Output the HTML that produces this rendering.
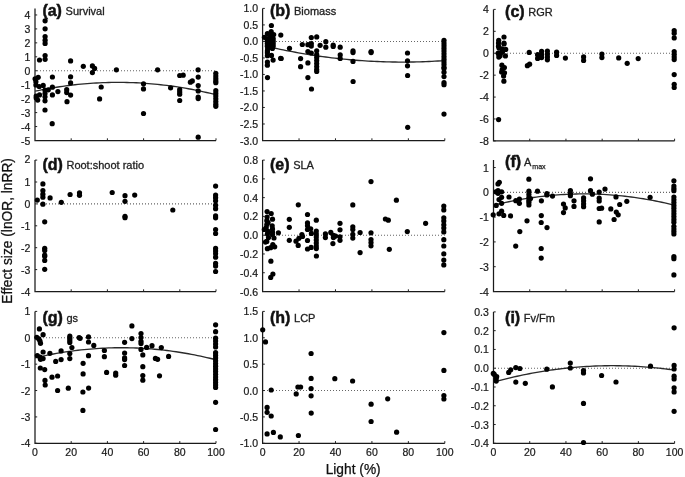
<!DOCTYPE html>
<html><head><meta charset="utf-8"><style>
html,body{margin:0;padding:0;background:#fff;}
svg{display:block;filter:grayscale(1)}
.t{font-family:"Liberation Sans",sans-serif;font-size:10.5px;fill:#1a1a1a;stroke:#1a1a1a;stroke-width:0.22px}
.L{font-family:"Liberation Sans",sans-serif;font-size:16px;font-weight:bold;fill:#111;stroke:#111;stroke-width:0.5px}
.T{font-family:"Liberation Sans",sans-serif;font-size:11px;fill:#222;stroke:#222;stroke-width:0.3px}
.S{font-family:"Liberation Sans",sans-serif;font-size:7.1px;fill:#222;stroke:#222;stroke-width:0.25px}
.ax{font-family:"Liberation Sans",sans-serif;font-size:13.75px;fill:#111;stroke:#111;stroke-width:0.25px}
</style></head><body>
<svg width="685" height="477" viewBox="0 0 685 477">
<rect width="685" height="477" fill="#fff"/>
<line x1="37.00" y1="70.75" x2="216.00" y2="70.75" stroke="#666" stroke-width="1.1" stroke-dasharray="1 2"/>
<path d="M35.00 8.40V140.50H216.00" fill="none" stroke="#1a1a1a" stroke-width="1.25"/>
<line x1="35.00" y1="140.50" x2="37.20" y2="140.50" stroke="#222" stroke-width="1"/>
<text x="30.40" y="144.50" text-anchor="end" class="t">-5</text>
<line x1="35.00" y1="126.55" x2="37.20" y2="126.55" stroke="#222" stroke-width="1"/>
<text x="30.40" y="130.55" text-anchor="end" class="t">-4</text>
<line x1="35.00" y1="112.60" x2="37.20" y2="112.60" stroke="#222" stroke-width="1"/>
<text x="30.40" y="116.60" text-anchor="end" class="t">-3</text>
<line x1="35.00" y1="98.65" x2="37.20" y2="98.65" stroke="#222" stroke-width="1"/>
<text x="30.40" y="102.65" text-anchor="end" class="t">-2</text>
<line x1="35.00" y1="84.70" x2="37.20" y2="84.70" stroke="#222" stroke-width="1"/>
<text x="30.40" y="88.70" text-anchor="end" class="t">-1</text>
<line x1="35.00" y1="70.75" x2="37.20" y2="70.75" stroke="#222" stroke-width="1"/>
<text x="30.40" y="74.75" text-anchor="end" class="t">0</text>
<line x1="35.00" y1="56.80" x2="37.20" y2="56.80" stroke="#222" stroke-width="1"/>
<text x="30.40" y="60.80" text-anchor="end" class="t">1</text>
<line x1="35.00" y1="42.85" x2="37.20" y2="42.85" stroke="#222" stroke-width="1"/>
<text x="30.40" y="46.85" text-anchor="end" class="t">2</text>
<line x1="35.00" y1="28.91" x2="37.20" y2="28.91" stroke="#222" stroke-width="1"/>
<text x="30.40" y="32.91" text-anchor="end" class="t">3</text>
<line x1="35.00" y1="14.96" x2="37.20" y2="14.96" stroke="#222" stroke-width="1"/>
<text x="30.40" y="18.96" text-anchor="end" class="t">4</text>
<line x1="71.20" y1="140.50" x2="71.20" y2="138.30" stroke="#222" stroke-width="1"/>
<line x1="107.40" y1="140.50" x2="107.40" y2="138.30" stroke="#222" stroke-width="1"/>
<line x1="143.60" y1="140.50" x2="143.60" y2="138.30" stroke="#222" stroke-width="1"/>
<line x1="179.80" y1="140.50" x2="179.80" y2="138.30" stroke="#222" stroke-width="1"/>
<line x1="216.00" y1="140.50" x2="216.00" y2="138.30" stroke="#222" stroke-width="1"/>
<polyline points="35.10,91.20 38.16,90.56 41.23,89.94 44.29,89.35 47.35,88.78 50.41,88.24 53.48,87.72 56.54,87.22 59.60,86.75 62.66,86.30 65.73,85.88 68.79,85.48 71.85,85.10 74.92,84.75 77.98,84.42 81.04,84.12 84.10,83.84 87.17,83.58 90.23,83.35 93.29,83.15 96.35,82.96 99.42,82.81 102.48,82.67 105.54,82.56 108.61,82.48 111.67,82.41 114.73,82.38 117.79,82.36 120.86,82.37 123.92,82.41 126.98,82.47 130.04,82.55 133.11,82.66 136.17,82.79 139.23,82.95 142.29,83.12 145.36,83.33 148.42,83.56 151.48,83.81 154.55,84.09 157.61,84.39 160.67,84.71 163.73,85.06 166.80,85.43 169.86,85.83 172.92,86.25 175.98,86.69 179.05,87.16 182.11,87.66 185.17,88.18 188.24,88.72 191.30,89.28 194.36,89.87 197.42,90.49 200.49,91.13 203.55,91.79 206.61,92.47 209.67,93.19 212.74,93.92 215.80,94.68" fill="none" stroke="#2a2a2a" stroke-width="1.35"/>
<circle cx="45.1" cy="20.8" r="2.6"/>
<circle cx="45.1" cy="28.8" r="2.6"/>
<circle cx="45.1" cy="36.6" r="2.6"/>
<circle cx="45.1" cy="40.2" r="2.6"/>
<circle cx="45.1" cy="43.4" r="2.6"/>
<circle cx="45.1" cy="55.6" r="2.6"/>
<circle cx="45.1" cy="59.3" r="2.6"/>
<circle cx="39.5" cy="60.0" r="2.6"/>
<circle cx="70.6" cy="60.9" r="2.6"/>
<circle cx="83.3" cy="66.3" r="2.6"/>
<circle cx="92.4" cy="65.9" r="2.6"/>
<circle cx="94.6" cy="68.4" r="2.6"/>
<circle cx="92.4" cy="72.6" r="2.6"/>
<circle cx="116.4" cy="69.8" r="2.6"/>
<circle cx="157.6" cy="69.8" r="2.6"/>
<circle cx="198.1" cy="69.8" r="2.6"/>
<circle cx="35.1" cy="78.8" r="2.6"/>
<circle cx="38.2" cy="77.3" r="2.6"/>
<circle cx="35.9" cy="81.7" r="2.6"/>
<circle cx="35.9" cy="85.0" r="2.6"/>
<circle cx="39.2" cy="86.5" r="2.6"/>
<circle cx="43.2" cy="85.4" r="2.6"/>
<circle cx="52.4" cy="77.0" r="2.6"/>
<circle cx="52.4" cy="87.2" r="2.6"/>
<circle cx="48.3" cy="89.8" r="2.6"/>
<circle cx="45.0" cy="90.2" r="2.6"/>
<circle cx="45.0" cy="93.5" r="2.6"/>
<circle cx="45.0" cy="96.8" r="2.6"/>
<circle cx="45.0" cy="100.8" r="2.6"/>
<circle cx="57.9" cy="91.6" r="2.6"/>
<circle cx="52.4" cy="94.9" r="2.6"/>
<circle cx="39.5" cy="94.9" r="2.6"/>
<circle cx="36.2" cy="96.0" r="2.6"/>
<circle cx="37.7" cy="100.1" r="2.6"/>
<circle cx="36.2" cy="97.9" r="2.6"/>
<circle cx="45.0" cy="110.0" r="2.6"/>
<circle cx="52.2" cy="123.7" r="2.6"/>
<circle cx="70.6" cy="76.8" r="2.6"/>
<circle cx="70.6" cy="82.9" r="2.6"/>
<circle cx="66.7" cy="89.7" r="2.6"/>
<circle cx="66.7" cy="92.6" r="2.6"/>
<circle cx="70.6" cy="95.1" r="2.6"/>
<circle cx="67.0" cy="101.7" r="2.6"/>
<circle cx="99.6" cy="98.9" r="2.6"/>
<circle cx="101.2" cy="87.0" r="2.6"/>
<circle cx="143.5" cy="83.8" r="2.6"/>
<circle cx="143.5" cy="88.9" r="2.6"/>
<circle cx="143.5" cy="113.5" r="2.6"/>
<circle cx="170.6" cy="87.8" r="2.6"/>
<circle cx="179.7" cy="75.5" r="2.6"/>
<circle cx="183.2" cy="75.2" r="2.6"/>
<circle cx="179.7" cy="89.7" r="2.6"/>
<circle cx="179.7" cy="92.0" r="2.6"/>
<circle cx="179.7" cy="94.2" r="2.6"/>
<circle cx="179.7" cy="100.5" r="2.6"/>
<circle cx="190.4" cy="82.2" r="2.6"/>
<circle cx="192.3" cy="80.9" r="2.6"/>
<circle cx="198.2" cy="77.1" r="2.6"/>
<circle cx="198.2" cy="85.5" r="2.6"/>
<circle cx="198.2" cy="90.9" r="2.6"/>
<circle cx="198.2" cy="97.1" r="2.6"/>
<circle cx="198.2" cy="98.6" r="2.6"/>
<circle cx="198.2" cy="137.2" r="2.6"/>
<circle cx="215.8" cy="73.3" r="2.6"/>
<circle cx="215.8" cy="76.0" r="2.6"/>
<circle cx="215.8" cy="78.7" r="2.6"/>
<circle cx="215.8" cy="81.0" r="2.6"/>
<circle cx="215.8" cy="82.7" r="2.6"/>
<circle cx="215.8" cy="90.7" r="2.6"/>
<circle cx="215.8" cy="93.4" r="2.6"/>
<circle cx="215.8" cy="96.1" r="2.6"/>
<circle cx="215.8" cy="98.8" r="2.6"/>
<circle cx="215.8" cy="101.5" r="2.6"/>
<circle cx="215.8" cy="104.2" r="2.6"/>
<circle cx="215.8" cy="106.3" r="2.6"/>
<text x="42.40" y="15.80"><tspan class="L">(a)</tspan><tspan class="T" dx="3.6" dy="-0.7">Survival</tspan></text>
<line x1="264.00" y1="41.43" x2="444.80" y2="41.43" stroke="#666" stroke-width="1.1" stroke-dasharray="1 2"/>
<path d="M262.60 8.40V140.50H444.80" fill="none" stroke="#1a1a1a" stroke-width="1.25"/>
<line x1="262.60" y1="140.50" x2="264.80" y2="140.50" stroke="#222" stroke-width="1"/>
<text x="258.00" y="144.50" text-anchor="end" class="t">-3.0</text>
<line x1="262.60" y1="123.99" x2="264.80" y2="123.99" stroke="#222" stroke-width="1"/>
<text x="258.00" y="127.99" text-anchor="end" class="t">-2.5</text>
<line x1="262.60" y1="107.47" x2="264.80" y2="107.47" stroke="#222" stroke-width="1"/>
<text x="258.00" y="111.47" text-anchor="end" class="t">-2.0</text>
<line x1="262.60" y1="90.96" x2="264.80" y2="90.96" stroke="#222" stroke-width="1"/>
<text x="258.00" y="94.96" text-anchor="end" class="t">-1.5</text>
<line x1="262.60" y1="74.45" x2="264.80" y2="74.45" stroke="#222" stroke-width="1"/>
<text x="258.00" y="78.45" text-anchor="end" class="t">-1.0</text>
<line x1="262.60" y1="57.94" x2="264.80" y2="57.94" stroke="#222" stroke-width="1"/>
<text x="258.00" y="61.94" text-anchor="end" class="t">-0.5</text>
<line x1="262.60" y1="41.43" x2="264.80" y2="41.43" stroke="#222" stroke-width="1"/>
<text x="258.00" y="45.43" text-anchor="end" class="t">0.0</text>
<line x1="262.60" y1="24.91" x2="264.80" y2="24.91" stroke="#222" stroke-width="1"/>
<text x="258.00" y="28.91" text-anchor="end" class="t">0.5</text>
<line x1="262.60" y1="8.40" x2="264.80" y2="8.40" stroke="#222" stroke-width="1"/>
<text x="258.00" y="12.40" text-anchor="end" class="t">1.0</text>
<line x1="299.04" y1="140.50" x2="299.04" y2="138.30" stroke="#222" stroke-width="1"/>
<line x1="335.48" y1="140.50" x2="335.48" y2="138.30" stroke="#222" stroke-width="1"/>
<line x1="371.92" y1="140.50" x2="371.92" y2="138.30" stroke="#222" stroke-width="1"/>
<line x1="408.36" y1="140.50" x2="408.36" y2="138.30" stroke="#222" stroke-width="1"/>
<line x1="444.80" y1="140.50" x2="444.80" y2="138.30" stroke="#222" stroke-width="1"/>
<polyline points="265.00,45.94 268.03,46.65 271.07,47.33 274.10,48.01 277.14,48.66 280.17,49.30 283.20,49.93 286.24,50.54 289.27,51.13 292.31,51.71 295.34,52.27 298.37,52.82 301.41,53.35 304.44,53.86 307.47,54.36 310.51,54.85 313.54,55.32 316.58,55.77 319.61,56.21 322.64,56.63 325.68,57.03 328.71,57.42 331.75,57.80 334.78,58.16 337.81,58.50 340.85,58.83 343.88,59.14 346.92,59.43 349.95,59.71 352.98,59.98 356.02,60.23 359.05,60.46 362.08,60.68 365.12,60.88 368.15,61.07 371.19,61.24 374.22,61.39 377.25,61.53 380.29,61.65 383.32,61.76 386.36,61.85 389.39,61.93 392.42,61.99 395.46,62.03 398.49,62.06 401.53,62.08 404.56,62.08 407.59,62.06 410.63,62.02 413.66,61.98 416.69,61.91 419.73,61.83 422.76,61.73 425.80,61.62 428.83,61.50 431.86,61.35 434.90,61.19 437.93,61.02 440.97,60.83 444.00,60.62" fill="none" stroke="#2a2a2a" stroke-width="1.35"/>
<circle cx="271.4" cy="25.5" r="2.6"/>
<circle cx="280.8" cy="35.1" r="2.6"/>
<circle cx="271.2" cy="31.6" r="2.6"/>
<circle cx="267.4" cy="33.5" r="2.6"/>
<circle cx="273.7" cy="34.5" r="2.6"/>
<circle cx="264.4" cy="37.3" r="2.6"/>
<circle cx="270.6" cy="36.4" r="2.6"/>
<circle cx="267.3" cy="38.5" r="2.6"/>
<circle cx="270.3" cy="38.5" r="2.6"/>
<circle cx="273.2" cy="38.5" r="2.6"/>
<circle cx="267.3" cy="41.0" r="2.6"/>
<circle cx="270.3" cy="41.0" r="2.6"/>
<circle cx="273.2" cy="41.0" r="2.6"/>
<circle cx="267.3" cy="43.5" r="2.6"/>
<circle cx="270.3" cy="43.5" r="2.6"/>
<circle cx="273.2" cy="43.5" r="2.6"/>
<circle cx="267.3" cy="46.0" r="2.6"/>
<circle cx="270.3" cy="46.0" r="2.6"/>
<circle cx="273.2" cy="46.0" r="2.6"/>
<circle cx="267.6" cy="48.8" r="2.6"/>
<circle cx="272.4" cy="48.4" r="2.6"/>
<circle cx="267.4" cy="51.0" r="2.6"/>
<circle cx="267.4" cy="52.8" r="2.6"/>
<circle cx="267.4" cy="55.7" r="2.6"/>
<circle cx="271.5" cy="55.4" r="2.6"/>
<circle cx="273.1" cy="60.1" r="2.6"/>
<circle cx="267.4" cy="62.0" r="2.6"/>
<circle cx="267.4" cy="65.2" r="2.6"/>
<circle cx="280.6" cy="58.3" r="2.6"/>
<circle cx="281.2" cy="58.5" r="2.6"/>
<circle cx="289.5" cy="48.3" r="2.6"/>
<circle cx="302.3" cy="44.5" r="2.6"/>
<circle cx="300.6" cy="58.6" r="2.6"/>
<circle cx="300.6" cy="66.7" r="2.6"/>
<circle cx="307.9" cy="44.7" r="2.6"/>
<circle cx="311.3" cy="37.6" r="2.6"/>
<circle cx="311.3" cy="43.5" r="2.6"/>
<circle cx="311.3" cy="46.1" r="2.6"/>
<circle cx="307.9" cy="51.6" r="2.6"/>
<circle cx="311.3" cy="53.0" r="2.6"/>
<circle cx="307.9" cy="62.9" r="2.6"/>
<circle cx="307.9" cy="77.6" r="2.6"/>
<circle cx="311.5" cy="89.0" r="2.6"/>
<circle cx="316.7" cy="36.9" r="2.6"/>
<circle cx="316.7" cy="50.8" r="2.6"/>
<circle cx="316.7" cy="54.5" r="2.6"/>
<circle cx="316.7" cy="57.5" r="2.6"/>
<circle cx="316.7" cy="60.5" r="2.6"/>
<circle cx="316.7" cy="63.5" r="2.6"/>
<circle cx="316.7" cy="66.5" r="2.6"/>
<circle cx="316.7" cy="69.5" r="2.6"/>
<circle cx="316.7" cy="71.5" r="2.6"/>
<circle cx="320.1" cy="45.3" r="2.6"/>
<circle cx="325.8" cy="41.7" r="2.6"/>
<circle cx="325.8" cy="47.2" r="2.6"/>
<circle cx="333.2" cy="45.0" r="2.6"/>
<circle cx="333.2" cy="46.4" r="2.6"/>
<circle cx="340.2" cy="47.2" r="2.6"/>
<circle cx="340.2" cy="54.9" r="2.6"/>
<circle cx="340.2" cy="58.5" r="2.6"/>
<circle cx="353.0" cy="50.8" r="2.6"/>
<circle cx="353.0" cy="52.6" r="2.6"/>
<circle cx="353.0" cy="61.4" r="2.6"/>
<circle cx="353.1" cy="81.5" r="2.6"/>
<circle cx="371.1" cy="51.6" r="2.6"/>
<circle cx="371.1" cy="52.6" r="2.6"/>
<circle cx="267.5" cy="77.6" r="2.6"/>
<circle cx="407.5" cy="53.0" r="2.6"/>
<circle cx="407.5" cy="60.8" r="2.6"/>
<circle cx="407.5" cy="65.8" r="2.6"/>
<circle cx="407.6" cy="75.5" r="2.6"/>
<circle cx="407.7" cy="127.3" r="2.6"/>
<circle cx="444.0" cy="40.3" r="2.6"/>
<circle cx="444.0" cy="43" r="2.6"/>
<circle cx="444.0" cy="45.7" r="2.6"/>
<circle cx="444.0" cy="48.4" r="2.6"/>
<circle cx="444.0" cy="51.1" r="2.6"/>
<circle cx="444.0" cy="53.8" r="2.6"/>
<circle cx="444.0" cy="56.5" r="2.6"/>
<circle cx="444.0" cy="59.2" r="2.6"/>
<circle cx="444.0" cy="61.9" r="2.6"/>
<circle cx="444.0" cy="64.6" r="2.6"/>
<circle cx="444.0" cy="67.3" r="2.6"/>
<circle cx="444.0" cy="68.5" r="2.6"/>
<circle cx="444.0" cy="72.2" r="2.6"/>
<circle cx="444.0" cy="76.6" r="2.6"/>
<circle cx="444.0" cy="82.5" r="2.6"/>
<circle cx="444.0" cy="84.7" r="2.6"/>
<circle cx="444.0" cy="114.1" r="2.6"/>
<text x="270.00" y="15.80"><tspan class="L">(b)</tspan><tspan class="T" dx="3.6" dy="-0.7">Biomass</tspan></text>
<line x1="495.00" y1="53.23" x2="674.60" y2="53.23" stroke="#666" stroke-width="1.1" stroke-dasharray="1 2"/>
<path d="M493.50 9.40V140.90H674.60" fill="none" stroke="#1a1a1a" stroke-width="1.25"/>
<line x1="493.50" y1="140.90" x2="495.70" y2="140.90" stroke="#222" stroke-width="1"/>
<text x="488.90" y="144.90" text-anchor="end" class="t">-8</text>
<line x1="493.50" y1="118.98" x2="495.70" y2="118.98" stroke="#222" stroke-width="1"/>
<text x="488.90" y="122.98" text-anchor="end" class="t">-6</text>
<line x1="493.50" y1="97.07" x2="495.70" y2="97.07" stroke="#222" stroke-width="1"/>
<text x="488.90" y="101.07" text-anchor="end" class="t">-4</text>
<line x1="493.50" y1="75.15" x2="495.70" y2="75.15" stroke="#222" stroke-width="1"/>
<text x="488.90" y="79.15" text-anchor="end" class="t">-2</text>
<line x1="493.50" y1="53.23" x2="495.70" y2="53.23" stroke="#222" stroke-width="1"/>
<text x="488.90" y="57.23" text-anchor="end" class="t">0</text>
<line x1="493.50" y1="31.32" x2="495.70" y2="31.32" stroke="#222" stroke-width="1"/>
<text x="488.90" y="35.32" text-anchor="end" class="t">2</text>
<line x1="493.50" y1="9.40" x2="495.70" y2="9.40" stroke="#222" stroke-width="1"/>
<text x="488.90" y="13.40" text-anchor="end" class="t">4</text>
<line x1="529.72" y1="140.90" x2="529.72" y2="138.70" stroke="#222" stroke-width="1"/>
<line x1="565.94" y1="140.90" x2="565.94" y2="138.70" stroke="#222" stroke-width="1"/>
<line x1="602.16" y1="140.90" x2="602.16" y2="138.70" stroke="#222" stroke-width="1"/>
<line x1="638.38" y1="140.90" x2="638.38" y2="138.70" stroke="#222" stroke-width="1"/>
<line x1="674.60" y1="140.90" x2="674.60" y2="138.70" stroke="#222" stroke-width="1"/>
<circle cx="504.0" cy="37.0" r="2.6"/>
<circle cx="504.0" cy="43.0" r="2.6"/>
<circle cx="504.0" cy="44.0" r="2.6"/>
<circle cx="498.7" cy="40.3" r="2.6"/>
<circle cx="498.5" cy="43.1" r="2.6"/>
<circle cx="498.5" cy="46.2" r="2.6"/>
<circle cx="499.0" cy="48.1" r="2.6"/>
<circle cx="502.0" cy="48.8" r="2.6"/>
<circle cx="505.7" cy="49.4" r="2.6"/>
<circle cx="502.6" cy="51.5" r="2.6"/>
<circle cx="498.2" cy="53.2" r="2.6"/>
<circle cx="498.8" cy="54.3" r="2.6"/>
<circle cx="498.8" cy="57.1" r="2.6"/>
<circle cx="500.7" cy="53.0" r="2.6"/>
<circle cx="500.1" cy="55.7" r="2.6"/>
<circle cx="505.4" cy="55.9" r="2.6"/>
<circle cx="501.9" cy="65.2" r="2.6"/>
<circle cx="504.4" cy="67.6" r="2.6"/>
<circle cx="502.2" cy="69.5" r="2.6"/>
<circle cx="501.6" cy="72.0" r="2.6"/>
<circle cx="504.5" cy="72.8" r="2.6"/>
<circle cx="503.6" cy="75.9" r="2.6"/>
<circle cx="503.9" cy="81.2" r="2.6"/>
<circle cx="498.6" cy="119.6" r="2.6"/>
<circle cx="529.2" cy="52.4" r="2.6"/>
<circle cx="527.4" cy="65.7" r="2.6"/>
<circle cx="529.6" cy="64.2" r="2.6"/>
<circle cx="537.6" cy="54.7" r="2.6"/>
<circle cx="537.6" cy="58.4" r="2.6"/>
<circle cx="541.6" cy="51.4" r="2.6"/>
<circle cx="541.6" cy="54.7" r="2.6"/>
<circle cx="541.6" cy="57.6" r="2.6"/>
<circle cx="539.5" cy="56.9" r="2.6"/>
<circle cx="547.4" cy="51.1" r="2.6"/>
<circle cx="547.4" cy="54.0" r="2.6"/>
<circle cx="547.4" cy="56.9" r="2.6"/>
<circle cx="547.4" cy="59.8" r="2.6"/>
<circle cx="556.6" cy="52.2" r="2.6"/>
<circle cx="556.6" cy="55.4" r="2.6"/>
<circle cx="565.4" cy="58.1" r="2.6"/>
<circle cx="583.6" cy="56.9" r="2.6"/>
<circle cx="583.6" cy="60.5" r="2.6"/>
<circle cx="601.9" cy="54.0" r="2.6"/>
<circle cx="601.9" cy="57.6" r="2.6"/>
<circle cx="618.7" cy="57.9" r="2.6"/>
<circle cx="627.2" cy="63.3" r="2.6"/>
<circle cx="638.2" cy="58.6" r="2.6"/>
<circle cx="674.2" cy="30.6" r="2.6"/>
<circle cx="674.2" cy="33.2" r="2.6"/>
<circle cx="674.2" cy="37.9" r="2.6"/>
<circle cx="674.2" cy="51.6" r="2.6"/>
<circle cx="674.2" cy="54.3" r="2.6"/>
<circle cx="674.2" cy="57.0" r="2.6"/>
<circle cx="674.2" cy="59.6" r="2.6"/>
<circle cx="674.2" cy="74.6" r="2.6"/>
<circle cx="674.2" cy="84.3" r="2.6"/>
<circle cx="674.2" cy="87.5" r="2.6"/>
<text x="505.10" y="16.60"><tspan class="L">(c)</tspan><tspan class="T" dx="3.6" dy="-0.7">RGR</tspan></text>
<line x1="37.00" y1="203.90" x2="216.00" y2="203.90" stroke="#666" stroke-width="1.1" stroke-dasharray="1 2"/>
<path d="M35.00 160.10V291.50H216.00" fill="none" stroke="#1a1a1a" stroke-width="1.25"/>
<line x1="35.00" y1="291.50" x2="37.20" y2="291.50" stroke="#222" stroke-width="1"/>
<text x="30.40" y="295.50" text-anchor="end" class="t">-4</text>
<line x1="35.00" y1="269.60" x2="37.20" y2="269.60" stroke="#222" stroke-width="1"/>
<text x="30.40" y="273.60" text-anchor="end" class="t">-3</text>
<line x1="35.00" y1="247.70" x2="37.20" y2="247.70" stroke="#222" stroke-width="1"/>
<text x="30.40" y="251.70" text-anchor="end" class="t">-2</text>
<line x1="35.00" y1="225.80" x2="37.20" y2="225.80" stroke="#222" stroke-width="1"/>
<text x="30.40" y="229.80" text-anchor="end" class="t">-1</text>
<line x1="35.00" y1="203.90" x2="37.20" y2="203.90" stroke="#222" stroke-width="1"/>
<text x="30.40" y="207.90" text-anchor="end" class="t">0</text>
<line x1="35.00" y1="182.00" x2="37.20" y2="182.00" stroke="#222" stroke-width="1"/>
<text x="30.40" y="186.00" text-anchor="end" class="t">1</text>
<line x1="35.00" y1="160.10" x2="37.20" y2="160.10" stroke="#222" stroke-width="1"/>
<text x="30.40" y="162.90" text-anchor="end" class="t">2</text>
<line x1="71.20" y1="291.50" x2="71.20" y2="289.30" stroke="#222" stroke-width="1"/>
<line x1="107.40" y1="291.50" x2="107.40" y2="289.30" stroke="#222" stroke-width="1"/>
<line x1="143.60" y1="291.50" x2="143.60" y2="289.30" stroke="#222" stroke-width="1"/>
<line x1="179.80" y1="291.50" x2="179.80" y2="289.30" stroke="#222" stroke-width="1"/>
<line x1="216.00" y1="291.50" x2="216.00" y2="289.30" stroke="#222" stroke-width="1"/>
<circle cx="125.0" cy="195.7" r="2.6"/>
<circle cx="125.0" cy="201.3" r="2.6"/>
<circle cx="125.0" cy="216.3" r="2.6"/>
<circle cx="125.0" cy="217.7" r="2.6"/>
<circle cx="112.2" cy="192.5" r="2.6"/>
<circle cx="79.5" cy="192.8" r="2.6"/>
<circle cx="79.5" cy="195.3" r="2.6"/>
<circle cx="70.1" cy="194.5" r="2.6"/>
<circle cx="61.3" cy="202.3" r="2.6"/>
<circle cx="50.1" cy="197.9" r="2.6"/>
<circle cx="42.9" cy="183.9" r="2.6"/>
<circle cx="42.9" cy="190.6" r="2.6"/>
<circle cx="42.9" cy="194.2" r="2.6"/>
<circle cx="42.9" cy="197.2" r="2.6"/>
<circle cx="37.3" cy="200.1" r="2.6"/>
<circle cx="42.9" cy="204.2" r="2.6"/>
<circle cx="44.7" cy="221.8" r="2.6"/>
<circle cx="44.7" cy="248.3" r="2.6"/>
<circle cx="44.7" cy="250.4" r="2.6"/>
<circle cx="44.7" cy="255.1" r="2.6"/>
<circle cx="44.7" cy="256.2" r="2.6"/>
<circle cx="44.7" cy="260.4" r="2.6"/>
<circle cx="44.7" cy="269.3" r="2.6"/>
<circle cx="172.8" cy="210.0" r="2.6"/>
<circle cx="215.6" cy="186.1" r="2.6"/>
<circle cx="215.6" cy="195.1" r="2.6"/>
<circle cx="215.6" cy="197.7" r="2.6"/>
<circle cx="215.6" cy="200.8" r="2.6"/>
<circle cx="215.6" cy="205.2" r="2.6"/>
<circle cx="215.6" cy="208.7" r="2.6"/>
<circle cx="215.6" cy="215.9" r="2.6"/>
<circle cx="215.6" cy="217.8" r="2.6"/>
<circle cx="215.6" cy="229.6" r="2.6"/>
<circle cx="215.6" cy="233.5" r="2.6"/>
<circle cx="215.6" cy="248.4" r="2.6"/>
<circle cx="215.6" cy="251.1" r="2.6"/>
<circle cx="215.6" cy="253.8" r="2.6"/>
<circle cx="215.6" cy="257.2" r="2.6"/>
<circle cx="215.6" cy="263.4" r="2.6"/>
<circle cx="215.6" cy="266.1" r="2.6"/>
<circle cx="215.6" cy="271.5" r="2.6"/>
<circle cx="134.7" cy="195.1" r="2.6"/>
<text x="42.40" y="169.50"><tspan class="L">(d)</tspan><tspan class="T" dx="3.6" dy="-0.7">Root:shoot ratio</tspan></text>
<line x1="264.00" y1="235.19" x2="444.80" y2="235.19" stroke="#666" stroke-width="1.1" stroke-dasharray="1 2"/>
<path d="M262.60 160.10V291.50H444.80" fill="none" stroke="#1a1a1a" stroke-width="1.25"/>
<line x1="262.60" y1="291.50" x2="264.80" y2="291.50" stroke="#222" stroke-width="1"/>
<text x="258.00" y="295.50" text-anchor="end" class="t">-0.6</text>
<line x1="262.60" y1="272.73" x2="264.80" y2="272.73" stroke="#222" stroke-width="1"/>
<text x="258.00" y="276.73" text-anchor="end" class="t">-0.4</text>
<line x1="262.60" y1="253.96" x2="264.80" y2="253.96" stroke="#222" stroke-width="1"/>
<text x="258.00" y="257.96" text-anchor="end" class="t">-0.2</text>
<line x1="262.60" y1="235.19" x2="264.80" y2="235.19" stroke="#222" stroke-width="1"/>
<text x="258.00" y="239.19" text-anchor="end" class="t">0.0</text>
<line x1="262.60" y1="216.41" x2="264.80" y2="216.41" stroke="#222" stroke-width="1"/>
<text x="258.00" y="220.41" text-anchor="end" class="t">0.2</text>
<line x1="262.60" y1="197.64" x2="264.80" y2="197.64" stroke="#222" stroke-width="1"/>
<text x="258.00" y="201.64" text-anchor="end" class="t">0.4</text>
<line x1="262.60" y1="178.87" x2="264.80" y2="178.87" stroke="#222" stroke-width="1"/>
<text x="258.00" y="182.87" text-anchor="end" class="t">0.6</text>
<line x1="262.60" y1="160.10" x2="264.80" y2="160.10" stroke="#222" stroke-width="1"/>
<text x="258.00" y="164.10" text-anchor="end" class="t">0.8</text>
<line x1="299.04" y1="291.50" x2="299.04" y2="289.30" stroke="#222" stroke-width="1"/>
<line x1="335.48" y1="291.50" x2="335.48" y2="289.30" stroke="#222" stroke-width="1"/>
<line x1="371.92" y1="291.50" x2="371.92" y2="289.30" stroke="#222" stroke-width="1"/>
<line x1="408.36" y1="291.50" x2="408.36" y2="289.30" stroke="#222" stroke-width="1"/>
<line x1="444.80" y1="291.50" x2="444.80" y2="289.30" stroke="#222" stroke-width="1"/>
<circle cx="267.1" cy="211.6" r="2.6"/>
<circle cx="271.2" cy="213.5" r="2.6"/>
<circle cx="267.1" cy="217.0" r="2.6"/>
<circle cx="272.5" cy="219.2" r="2.6"/>
<circle cx="266.8" cy="220.7" r="2.6"/>
<circle cx="268.1" cy="222.6" r="2.6"/>
<circle cx="272.2" cy="225.8" r="2.6"/>
<circle cx="266.8" cy="224.5" r="2.6"/>
<circle cx="266.2" cy="227.6" r="2.6"/>
<circle cx="264.3" cy="229.5" r="2.6"/>
<circle cx="272.5" cy="228.9" r="2.6"/>
<circle cx="268.1" cy="231.4" r="2.6"/>
<circle cx="272.5" cy="232.0" r="2.6"/>
<circle cx="278.4" cy="232.8" r="2.6"/>
<circle cx="267.4" cy="233.9" r="2.6"/>
<circle cx="272.5" cy="234.5" r="2.6"/>
<circle cx="274.0" cy="238.0" r="2.6"/>
<circle cx="266.8" cy="241.4" r="2.6"/>
<circle cx="265.5" cy="242.1" r="2.6"/>
<circle cx="272.8" cy="244.6" r="2.6"/>
<circle cx="274.7" cy="246.8" r="2.6"/>
<circle cx="267.4" cy="248.7" r="2.6"/>
<circle cx="270.6" cy="247.7" r="2.6"/>
<circle cx="270.9" cy="261.2" r="2.6"/>
<circle cx="272.9" cy="274.1" r="2.6"/>
<circle cx="270.7" cy="277.4" r="2.6"/>
<circle cx="268.5" cy="237.5" r="2.6"/>
<circle cx="298.3" cy="204.8" r="2.6"/>
<circle cx="289.3" cy="219.3" r="2.6"/>
<circle cx="289.3" cy="227.3" r="2.6"/>
<circle cx="289.3" cy="240.3" r="2.6"/>
<circle cx="307.5" cy="214.5" r="2.6"/>
<circle cx="307.5" cy="222.9" r="2.6"/>
<circle cx="307.5" cy="225.8" r="2.6"/>
<circle cx="307.5" cy="229.5" r="2.6"/>
<circle cx="310.7" cy="228.8" r="2.6"/>
<circle cx="311.4" cy="233.4" r="2.6"/>
<circle cx="301.9" cy="234.5" r="2.6"/>
<circle cx="302.5" cy="236.5" r="2.6"/>
<circle cx="298.9" cy="238.3" r="2.6"/>
<circle cx="296.0" cy="241.2" r="2.6"/>
<circle cx="298.2" cy="245.4" r="2.6"/>
<circle cx="307.5" cy="240.5" r="2.6"/>
<circle cx="307.5" cy="249.0" r="2.6"/>
<circle cx="311.1" cy="247.4" r="2.6"/>
<circle cx="316.3" cy="220.2" r="2.6"/>
<circle cx="316.3" cy="231.0" r="2.6"/>
<circle cx="316.3" cy="234.0" r="2.6"/>
<circle cx="316.3" cy="237.0" r="2.6"/>
<circle cx="316.3" cy="240.0" r="2.6"/>
<circle cx="316.3" cy="243.0" r="2.6"/>
<circle cx="316.3" cy="246.0" r="2.6"/>
<circle cx="316.3" cy="248.6" r="2.6"/>
<circle cx="316.4" cy="256.0" r="2.6"/>
<circle cx="325.4" cy="233.9" r="2.6"/>
<circle cx="325.4" cy="237.6" r="2.6"/>
<circle cx="330.8" cy="232.4" r="2.6"/>
<circle cx="333.4" cy="235.4" r="2.6"/>
<circle cx="333.4" cy="237.6" r="2.6"/>
<circle cx="335.6" cy="236.1" r="2.6"/>
<circle cx="332.9" cy="243.6" r="2.6"/>
<circle cx="340.0" cy="223.3" r="2.6"/>
<circle cx="340.0" cy="229.8" r="2.6"/>
<circle cx="340.0" cy="236.8" r="2.6"/>
<circle cx="340.0" cy="240.3" r="2.6"/>
<circle cx="352.8" cy="204.9" r="2.6"/>
<circle cx="352.8" cy="226.8" r="2.6"/>
<circle cx="352.8" cy="229.6" r="2.6"/>
<circle cx="352.8" cy="234.4" r="2.6"/>
<circle cx="352.8" cy="238.1" r="2.6"/>
<circle cx="371.0" cy="181.6" r="2.6"/>
<circle cx="396.4" cy="200.2" r="2.6"/>
<circle cx="385.4" cy="219.0" r="2.6"/>
<circle cx="388.3" cy="220.2" r="2.6"/>
<circle cx="360.1" cy="232.5" r="2.6"/>
<circle cx="371.0" cy="232.8" r="2.6"/>
<circle cx="371.0" cy="239.6" r="2.6"/>
<circle cx="371.0" cy="242.6" r="2.6"/>
<circle cx="371.0" cy="245.8" r="2.6"/>
<circle cx="407.3" cy="231.6" r="2.6"/>
<circle cx="360.1" cy="252.6" r="2.6"/>
<circle cx="389.3" cy="249.3" r="2.6"/>
<circle cx="425.6" cy="223.3" r="2.6"/>
<circle cx="443.8" cy="206.0" r="2.6"/>
<circle cx="443.8" cy="209.9" r="2.6"/>
<circle cx="443.8" cy="217.8" r="2.6"/>
<circle cx="443.8" cy="220.9" r="2.6"/>
<circle cx="443.8" cy="224.8" r="2.6"/>
<circle cx="443.8" cy="228.0" r="2.6"/>
<circle cx="443.8" cy="231.9" r="2.6"/>
<circle cx="443.8" cy="239.7" r="2.6"/>
<circle cx="443.8" cy="246.0" r="2.6"/>
<circle cx="443.8" cy="253.9" r="2.6"/>
<circle cx="443.8" cy="260.1" r="2.6"/>
<circle cx="443.8" cy="264.9" r="2.6"/>
<text x="270.00" y="169.50"><tspan class="L">(e)</tspan><tspan class="T" dx="3.6" dy="-0.7">SLA</tspan></text>
<line x1="495.00" y1="192.33" x2="674.60" y2="192.33" stroke="#666" stroke-width="1.1" stroke-dasharray="1 2"/>
<path d="M493.50 160.10V291.50H674.60" fill="none" stroke="#1a1a1a" stroke-width="1.25"/>
<line x1="493.50" y1="291.50" x2="495.70" y2="291.50" stroke="#222" stroke-width="1"/>
<text x="488.90" y="295.50" text-anchor="end" class="t">-4</text>
<line x1="493.50" y1="266.71" x2="495.70" y2="266.71" stroke="#222" stroke-width="1"/>
<text x="488.90" y="270.71" text-anchor="end" class="t">-3</text>
<line x1="493.50" y1="241.92" x2="495.70" y2="241.92" stroke="#222" stroke-width="1"/>
<text x="488.90" y="245.92" text-anchor="end" class="t">-2</text>
<line x1="493.50" y1="217.12" x2="495.70" y2="217.12" stroke="#222" stroke-width="1"/>
<text x="488.90" y="221.12" text-anchor="end" class="t">-1</text>
<line x1="493.50" y1="192.33" x2="495.70" y2="192.33" stroke="#222" stroke-width="1"/>
<text x="488.90" y="196.33" text-anchor="end" class="t">0</text>
<line x1="493.50" y1="167.54" x2="495.70" y2="167.54" stroke="#222" stroke-width="1"/>
<text x="488.90" y="171.54" text-anchor="end" class="t">1</text>
<line x1="529.72" y1="291.50" x2="529.72" y2="289.30" stroke="#222" stroke-width="1"/>
<line x1="565.94" y1="291.50" x2="565.94" y2="289.30" stroke="#222" stroke-width="1"/>
<line x1="602.16" y1="291.50" x2="602.16" y2="289.30" stroke="#222" stroke-width="1"/>
<line x1="638.38" y1="291.50" x2="638.38" y2="289.30" stroke="#222" stroke-width="1"/>
<line x1="674.60" y1="291.50" x2="674.60" y2="289.30" stroke="#222" stroke-width="1"/>
<polyline points="493.50,205.23 496.56,204.48 499.62,203.75 502.68,203.05 505.74,202.38 508.80,201.73 511.86,201.11 514.92,200.51 517.97,199.94 521.03,199.39 524.09,198.87 527.15,198.38 530.21,197.91 533.27,197.47 536.33,197.06 539.39,196.67 542.45,196.30 545.51,195.96 548.57,195.65 551.63,195.36 554.69,195.10 557.75,194.87 560.81,194.66 563.86,194.48 566.92,194.32 569.98,194.19 573.04,194.08 576.10,194.00 579.16,193.95 582.22,193.92 585.28,193.92 588.34,193.94 591.40,193.99 594.46,194.07 597.52,194.17 600.58,194.30 603.64,194.45 606.69,194.63 609.75,194.83 612.81,195.06 615.87,195.32 618.93,195.60 621.99,195.91 625.05,196.24 628.11,196.60 631.17,196.99 634.23,197.40 637.29,197.84 640.35,198.30 643.41,198.79 646.47,199.31 649.53,199.85 652.58,200.42 655.64,201.01 658.70,201.63 661.76,202.27 664.82,202.94 667.88,203.64 670.94,204.36 674.00,205.11" fill="none" stroke="#2a2a2a" stroke-width="1.35"/>
<circle cx="499.3" cy="182.3" r="2.6"/>
<circle cx="498.0" cy="183.9" r="2.6"/>
<circle cx="495.9" cy="191.8" r="2.6"/>
<circle cx="498.0" cy="190.7" r="2.6"/>
<circle cx="498.0" cy="193.3" r="2.6"/>
<circle cx="501.6" cy="191.8" r="2.6"/>
<circle cx="501.6" cy="197.3" r="2.6"/>
<circle cx="499.0" cy="199.6" r="2.6"/>
<circle cx="509.0" cy="197.0" r="2.6"/>
<circle cx="501.6" cy="203.3" r="2.6"/>
<circle cx="496.2" cy="205.4" r="2.6"/>
<circle cx="501.6" cy="211.2" r="2.6"/>
<circle cx="499.0" cy="213.8" r="2.6"/>
<circle cx="493.2" cy="214.8" r="2.6"/>
<circle cx="503.7" cy="215.4" r="2.6"/>
<circle cx="510.5" cy="215.9" r="2.6"/>
<circle cx="515.8" cy="200.7" r="2.6"/>
<circle cx="519.4" cy="199.1" r="2.6"/>
<circle cx="519.4" cy="203.3" r="2.6"/>
<circle cx="528.9" cy="179.2" r="2.6"/>
<circle cx="528.9" cy="191.2" r="2.6"/>
<circle cx="528.9" cy="194.4" r="2.6"/>
<circle cx="528.9" cy="197.5" r="2.6"/>
<circle cx="528.9" cy="200.2" r="2.6"/>
<circle cx="528.9" cy="202.3" r="2.6"/>
<circle cx="528.9" cy="204.9" r="2.6"/>
<circle cx="530.5" cy="198.6" r="2.6"/>
<circle cx="527.0" cy="220.8" r="2.6"/>
<circle cx="537.5" cy="191.2" r="2.6"/>
<circle cx="541.4" cy="200.8" r="2.6"/>
<circle cx="541.3" cy="215.6" r="2.6"/>
<circle cx="541.2" cy="222.5" r="2.6"/>
<circle cx="546.9" cy="193.5" r="2.6"/>
<circle cx="546.9" cy="195.0" r="2.6"/>
<circle cx="547.0" cy="227.6" r="2.6"/>
<circle cx="552.5" cy="196.1" r="2.6"/>
<circle cx="563.5" cy="204.0" r="2.6"/>
<circle cx="565.2" cy="207.9" r="2.6"/>
<circle cx="563.5" cy="212.6" r="2.6"/>
<circle cx="570.4" cy="190.5" r="2.6"/>
<circle cx="570.4" cy="193.5" r="2.6"/>
<circle cx="570.4" cy="195.7" r="2.6"/>
<circle cx="574.0" cy="200.8" r="2.6"/>
<circle cx="574.0" cy="206.4" r="2.6"/>
<circle cx="583.6" cy="197.9" r="2.6"/>
<circle cx="583.6" cy="200.8" r="2.6"/>
<circle cx="583.6" cy="203.8" r="2.6"/>
<circle cx="583.6" cy="206.7" r="2.6"/>
<circle cx="590.5" cy="178.8" r="2.6"/>
<circle cx="590.5" cy="190.5" r="2.6"/>
<circle cx="592.4" cy="194.2" r="2.6"/>
<circle cx="599.2" cy="192.0" r="2.6"/>
<circle cx="599.2" cy="198.2" r="2.6"/>
<circle cx="599.2" cy="201.0" r="2.6"/>
<circle cx="599.2" cy="208.5" r="2.6"/>
<circle cx="601.6" cy="208.2" r="2.6"/>
<circle cx="599.2" cy="221.9" r="2.6"/>
<circle cx="605.0" cy="189.1" r="2.6"/>
<circle cx="610.8" cy="208.9" r="2.6"/>
<circle cx="616.0" cy="196.9" r="2.6"/>
<circle cx="619.7" cy="204.5" r="2.6"/>
<circle cx="616.3" cy="212.1" r="2.6"/>
<circle cx="618.2" cy="214.8" r="2.6"/>
<circle cx="614.1" cy="219.5" r="2.6"/>
<circle cx="626.8" cy="201.3" r="2.6"/>
<circle cx="650.1" cy="197.3" r="2.6"/>
<circle cx="519.8" cy="231.6" r="2.6"/>
<circle cx="515.7" cy="246.1" r="2.6"/>
<circle cx="541.2" cy="248.5" r="2.6"/>
<circle cx="541.2" cy="258.1" r="2.6"/>
<circle cx="673.9" cy="180.8" r="2.6"/>
<circle cx="673.9" cy="186.0" r="2.6"/>
<circle cx="673.9" cy="188.5" r="2.6"/>
<circle cx="673.9" cy="190.7" r="2.6"/>
<circle cx="673.9" cy="197.0" r="2.6"/>
<circle cx="673.9" cy="199.8" r="2.6"/>
<circle cx="673.9" cy="202.6" r="2.6"/>
<circle cx="673.9" cy="205.4" r="2.6"/>
<circle cx="673.9" cy="208.2" r="2.6"/>
<circle cx="673.9" cy="211.0" r="2.6"/>
<circle cx="673.9" cy="213.8" r="2.6"/>
<circle cx="673.9" cy="216.6" r="2.6"/>
<circle cx="673.9" cy="219.4" r="2.6"/>
<circle cx="673.9" cy="222.2" r="2.6"/>
<circle cx="673.9" cy="226.3" r="2.6"/>
<circle cx="673.9" cy="229.0" r="2.6"/>
<circle cx="673.9" cy="231.6" r="2.6"/>
<circle cx="673.9" cy="234.0" r="2.6"/>
<circle cx="673.9" cy="256.6" r="2.6"/>
<circle cx="673.9" cy="258.7" r="2.6"/>
<circle cx="673.9" cy="274.9" r="2.6"/>
<text x="505.10" y="166.70"><tspan class="L">(f)</tspan><tspan class="T" dx="2.8" dy="-0.7">A</tspan><tspan class="S" dx="1.0" dy="2.9">max</tspan></text>
<line x1="37.00" y1="337.78" x2="216.00" y2="337.78" stroke="#666" stroke-width="1.1" stroke-dasharray="1 2"/>
<path d="M35.00 311.40V443.30H216.00" fill="none" stroke="#1a1a1a" stroke-width="1.25"/>
<line x1="35.00" y1="443.30" x2="37.20" y2="443.30" stroke="#222" stroke-width="1"/>
<text x="30.40" y="447.30" text-anchor="end" class="t">-4</text>
<line x1="35.00" y1="416.92" x2="37.20" y2="416.92" stroke="#222" stroke-width="1"/>
<text x="30.40" y="420.92" text-anchor="end" class="t">-3</text>
<line x1="35.00" y1="390.54" x2="37.20" y2="390.54" stroke="#222" stroke-width="1"/>
<text x="30.40" y="394.54" text-anchor="end" class="t">-2</text>
<line x1="35.00" y1="364.16" x2="37.20" y2="364.16" stroke="#222" stroke-width="1"/>
<text x="30.40" y="368.16" text-anchor="end" class="t">-1</text>
<line x1="35.00" y1="337.78" x2="37.20" y2="337.78" stroke="#222" stroke-width="1"/>
<text x="30.40" y="341.78" text-anchor="end" class="t">0</text>
<line x1="35.00" y1="311.40" x2="37.20" y2="311.40" stroke="#222" stroke-width="1"/>
<text x="30.40" y="315.40" text-anchor="end" class="t">1</text>
<line x1="71.20" y1="443.30" x2="71.20" y2="441.10" stroke="#222" stroke-width="1"/>
<line x1="107.40" y1="443.30" x2="107.40" y2="441.10" stroke="#222" stroke-width="1"/>
<line x1="143.60" y1="443.30" x2="143.60" y2="441.10" stroke="#222" stroke-width="1"/>
<line x1="179.80" y1="443.30" x2="179.80" y2="441.10" stroke="#222" stroke-width="1"/>
<line x1="216.00" y1="443.30" x2="216.00" y2="441.10" stroke="#222" stroke-width="1"/>
<text x="35.00" y="456.10" text-anchor="middle" class="t">0</text>
<text x="71.20" y="456.10" text-anchor="middle" class="t">20</text>
<text x="107.40" y="456.10" text-anchor="middle" class="t">40</text>
<text x="143.60" y="456.10" text-anchor="middle" class="t">60</text>
<text x="179.80" y="456.10" text-anchor="middle" class="t">80</text>
<text x="216.00" y="456.10" text-anchor="middle" class="t">100</text>
<polyline points="35.00,357.85 38.07,357.14 41.14,356.46 44.20,355.81 47.27,355.18 50.34,354.58 53.41,354.00 56.47,353.45 59.54,352.92 62.61,352.42 65.68,351.94 68.75,351.49 71.81,351.07 74.88,350.67 77.95,350.29 81.02,349.94 84.08,349.62 87.15,349.32 90.22,349.05 93.29,348.80 96.36,348.58 99.42,348.39 102.49,348.22 105.56,348.07 108.63,347.95 111.69,347.86 114.76,347.79 117.83,347.74 120.90,347.73 123.97,347.73 127.03,347.77 130.10,347.82 133.17,347.91 136.24,348.02 139.31,348.15 142.37,348.31 145.44,348.50 148.51,348.71 151.58,348.95 154.64,349.21 157.71,349.49 160.78,349.81 163.85,350.15 166.92,350.51 169.98,350.90 173.05,351.31 176.12,351.75 179.19,352.22 182.25,352.71 185.32,353.23 188.39,353.77 191.46,354.34 194.53,354.93 197.59,355.55 200.66,356.19 203.73,356.86 206.80,357.55 209.86,358.27 212.93,359.02 216.00,359.79" fill="none" stroke="#2a2a2a" stroke-width="1.35"/>
<circle cx="39.4" cy="328.9" r="2.6"/>
<circle cx="43.1" cy="334.7" r="2.6"/>
<circle cx="36.8" cy="337.3" r="2.6"/>
<circle cx="38.9" cy="338.9" r="2.6"/>
<circle cx="40.0" cy="341.0" r="2.6"/>
<circle cx="40.5" cy="343.3" r="2.6"/>
<circle cx="69.8" cy="336.2" r="2.6"/>
<circle cx="69.8" cy="338.3" r="2.6"/>
<circle cx="69.8" cy="340.4" r="2.6"/>
<circle cx="69.8" cy="342.5" r="2.6"/>
<circle cx="71.9" cy="347.5" r="2.6"/>
<circle cx="43.1" cy="352.0" r="2.6"/>
<circle cx="49.9" cy="353.3" r="2.6"/>
<circle cx="61.1" cy="350.9" r="2.6"/>
<circle cx="69.8" cy="353.5" r="2.6"/>
<circle cx="69.8" cy="358.6" r="2.6"/>
<circle cx="37.3" cy="355.6" r="2.6"/>
<circle cx="40.0" cy="357.2" r="2.6"/>
<circle cx="40.5" cy="359.3" r="2.6"/>
<circle cx="43.1" cy="358.6" r="2.6"/>
<circle cx="55.7" cy="361.4" r="2.6"/>
<circle cx="61.1" cy="359.6" r="2.6"/>
<circle cx="40.3" cy="368.0" r="2.6"/>
<circle cx="44.7" cy="369.6" r="2.6"/>
<circle cx="52.0" cy="377.2" r="2.6"/>
<circle cx="57.6" cy="376.0" r="2.6"/>
<circle cx="45.0" cy="380.4" r="2.6"/>
<circle cx="45.2" cy="385.0" r="2.6"/>
<circle cx="57.6" cy="390.5" r="2.6"/>
<circle cx="68.3" cy="388.2" r="2.6"/>
<circle cx="79.1" cy="337.6" r="2.6"/>
<circle cx="80.1" cy="338.3" r="2.6"/>
<circle cx="88.5" cy="336.9" r="2.6"/>
<circle cx="88.5" cy="342.0" r="2.6"/>
<circle cx="93.8" cy="345.4" r="2.6"/>
<circle cx="88.5" cy="355.7" r="2.6"/>
<circle cx="83.1" cy="363.3" r="2.6"/>
<circle cx="83.1" cy="373.9" r="2.6"/>
<circle cx="88.6" cy="388.1" r="2.6"/>
<circle cx="104.4" cy="350.5" r="2.6"/>
<circle cx="104.4" cy="356.7" r="2.6"/>
<circle cx="106.6" cy="372.4" r="2.6"/>
<circle cx="115.7" cy="373.1" r="2.6"/>
<circle cx="115.7" cy="375.2" r="2.6"/>
<circle cx="124.6" cy="342.3" r="2.6"/>
<circle cx="124.6" cy="353.0" r="2.6"/>
<circle cx="124.6" cy="357.9" r="2.6"/>
<circle cx="124.6" cy="359.6" r="2.6"/>
<circle cx="124.6" cy="365.5" r="2.6"/>
<circle cx="131.9" cy="325.9" r="2.6"/>
<circle cx="131.9" cy="338.6" r="2.6"/>
<circle cx="141.0" cy="333.6" r="2.6"/>
<circle cx="141.0" cy="337.6" r="2.6"/>
<circle cx="141.0" cy="341.3" r="2.6"/>
<circle cx="141.0" cy="343.5" r="2.6"/>
<circle cx="141.0" cy="349.4" r="2.6"/>
<circle cx="142.8" cy="354.9" r="2.6"/>
<circle cx="142.8" cy="366.7" r="2.6"/>
<circle cx="142.8" cy="375.6" r="2.6"/>
<circle cx="142.8" cy="380.2" r="2.6"/>
<circle cx="82.9" cy="392.0" r="2.6"/>
<circle cx="82.9" cy="410.4" r="2.6"/>
<circle cx="146.6" cy="347.4" r="2.6"/>
<circle cx="152.0" cy="345.7" r="2.6"/>
<circle cx="161.3" cy="347.6" r="2.6"/>
<circle cx="155.4" cy="358.4" r="2.6"/>
<circle cx="157.6" cy="359.3" r="2.6"/>
<circle cx="168.6" cy="356.4" r="2.6"/>
<circle cx="159.5" cy="375.8" r="2.6"/>
<circle cx="215.6" cy="324.8" r="2.6"/>
<circle cx="215.6" cy="331.7" r="2.6"/>
<circle cx="215.6" cy="338.2" r="2.6"/>
<circle cx="215.6" cy="341.0" r="2.6"/>
<circle cx="215.6" cy="344.0" r="2.6"/>
<circle cx="215.6" cy="347.0" r="2.6"/>
<circle cx="215.6" cy="352.7" r="2.6"/>
<circle cx="215.6" cy="355.4" r="2.6"/>
<circle cx="215.6" cy="358.1" r="2.6"/>
<circle cx="215.6" cy="360.8" r="2.6"/>
<circle cx="215.6" cy="363.5" r="2.6"/>
<circle cx="215.6" cy="366.2" r="2.6"/>
<circle cx="215.6" cy="368.9" r="2.6"/>
<circle cx="215.6" cy="371.6" r="2.6"/>
<circle cx="215.6" cy="374.3" r="2.6"/>
<circle cx="215.6" cy="377.0" r="2.6"/>
<circle cx="215.6" cy="379.7" r="2.6"/>
<circle cx="215.6" cy="382.4" r="2.6"/>
<circle cx="215.6" cy="385.1" r="2.6"/>
<circle cx="215.6" cy="387.5" r="2.6"/>
<circle cx="215.6" cy="402.3" r="2.6"/>
<circle cx="215.6" cy="429.5" r="2.6"/>
<text x="42.40" y="322.70"><tspan class="L">(g)</tspan><tspan class="T" dx="3.6" dy="-0.7">gs</tspan></text>
<line x1="264.00" y1="390.54" x2="444.80" y2="390.54" stroke="#666" stroke-width="1.1" stroke-dasharray="1 2"/>
<path d="M262.60 311.40V443.30H444.80" fill="none" stroke="#1a1a1a" stroke-width="1.25"/>
<line x1="262.60" y1="443.30" x2="264.80" y2="443.30" stroke="#222" stroke-width="1"/>
<text x="258.00" y="447.30" text-anchor="end" class="t">-1.0</text>
<line x1="262.60" y1="416.92" x2="264.80" y2="416.92" stroke="#222" stroke-width="1"/>
<text x="258.00" y="420.92" text-anchor="end" class="t">-0.5</text>
<line x1="262.60" y1="390.54" x2="264.80" y2="390.54" stroke="#222" stroke-width="1"/>
<text x="258.00" y="394.54" text-anchor="end" class="t">0.0</text>
<line x1="262.60" y1="364.16" x2="264.80" y2="364.16" stroke="#222" stroke-width="1"/>
<text x="258.00" y="368.16" text-anchor="end" class="t">0.5</text>
<line x1="262.60" y1="337.78" x2="264.80" y2="337.78" stroke="#222" stroke-width="1"/>
<text x="258.00" y="341.78" text-anchor="end" class="t">1.0</text>
<line x1="262.60" y1="311.40" x2="264.80" y2="311.40" stroke="#222" stroke-width="1"/>
<text x="258.00" y="315.40" text-anchor="end" class="t">1.5</text>
<line x1="299.04" y1="443.30" x2="299.04" y2="441.10" stroke="#222" stroke-width="1"/>
<line x1="335.48" y1="443.30" x2="335.48" y2="441.10" stroke="#222" stroke-width="1"/>
<line x1="371.92" y1="443.30" x2="371.92" y2="441.10" stroke="#222" stroke-width="1"/>
<line x1="408.36" y1="443.30" x2="408.36" y2="441.10" stroke="#222" stroke-width="1"/>
<line x1="444.80" y1="443.30" x2="444.80" y2="441.10" stroke="#222" stroke-width="1"/>
<text x="262.60" y="456.10" text-anchor="middle" class="t">0</text>
<text x="299.04" y="456.10" text-anchor="middle" class="t">20</text>
<text x="335.48" y="456.10" text-anchor="middle" class="t">40</text>
<text x="371.92" y="456.10" text-anchor="middle" class="t">60</text>
<text x="408.36" y="456.10" text-anchor="middle" class="t">80</text>
<text x="444.80" y="456.10" text-anchor="middle" class="t">100</text>
<circle cx="262.7" cy="329.8" r="2.6"/>
<circle cx="265.5" cy="341.9" r="2.6"/>
<circle cx="311.1" cy="353.5" r="2.6"/>
<circle cx="311.1" cy="378.4" r="2.6"/>
<circle cx="297.9" cy="387.0" r="2.6"/>
<circle cx="300.6" cy="387.0" r="2.6"/>
<circle cx="311.1" cy="388.6" r="2.6"/>
<circle cx="271.2" cy="390.0" r="2.6"/>
<circle cx="296.2" cy="393.9" r="2.6"/>
<circle cx="311.1" cy="395.8" r="2.6"/>
<circle cx="267.1" cy="407.4" r="2.6"/>
<circle cx="267.1" cy="412.3" r="2.6"/>
<circle cx="271.2" cy="416.0" r="2.6"/>
<circle cx="311.2" cy="413.1" r="2.6"/>
<circle cx="267.1" cy="433.9" r="2.6"/>
<circle cx="273.4" cy="432.4" r="2.6"/>
<circle cx="280.3" cy="436.9" r="2.6"/>
<circle cx="298.4" cy="435.5" r="2.6"/>
<circle cx="334.8" cy="378.7" r="2.6"/>
<circle cx="352.6" cy="381.0" r="2.6"/>
<circle cx="371.1" cy="404.2" r="2.6"/>
<circle cx="387.7" cy="398.8" r="2.6"/>
<circle cx="371.1" cy="421.5" r="2.6"/>
<circle cx="396.6" cy="432.2" r="2.6"/>
<circle cx="443.9" cy="332.6" r="2.6"/>
<circle cx="443.9" cy="370.4" r="2.6"/>
<circle cx="443.9" cy="395.6" r="2.6"/>
<circle cx="443.9" cy="399.0" r="2.6"/>
<text x="270.00" y="322.70"><tspan class="L">(h)</tspan><tspan class="T" dx="3.6" dy="-0.7">LCP</tspan></text>
<line x1="495.00" y1="368.21" x2="674.60" y2="368.21" stroke="#666" stroke-width="1.1" stroke-dasharray="1 2"/>
<path d="M493.50 311.90V443.30H674.60" fill="none" stroke="#1a1a1a" stroke-width="1.25"/>
<line x1="493.50" y1="443.30" x2="495.70" y2="443.30" stroke="#222" stroke-width="1"/>
<text x="488.90" y="447.30" text-anchor="end" class="t">-0.4</text>
<line x1="493.50" y1="424.53" x2="495.70" y2="424.53" stroke="#222" stroke-width="1"/>
<text x="488.90" y="428.53" text-anchor="end" class="t">-0.3</text>
<line x1="493.50" y1="405.76" x2="495.70" y2="405.76" stroke="#222" stroke-width="1"/>
<text x="488.90" y="409.76" text-anchor="end" class="t">-0.2</text>
<line x1="493.50" y1="386.99" x2="495.70" y2="386.99" stroke="#222" stroke-width="1"/>
<text x="488.90" y="390.99" text-anchor="end" class="t">-0.1</text>
<line x1="493.50" y1="368.21" x2="495.70" y2="368.21" stroke="#222" stroke-width="1"/>
<text x="488.90" y="372.21" text-anchor="end" class="t">0.0</text>
<line x1="493.50" y1="349.44" x2="495.70" y2="349.44" stroke="#222" stroke-width="1"/>
<text x="488.90" y="353.44" text-anchor="end" class="t">0.1</text>
<line x1="493.50" y1="330.67" x2="495.70" y2="330.67" stroke="#222" stroke-width="1"/>
<text x="488.90" y="334.67" text-anchor="end" class="t">0.2</text>
<line x1="493.50" y1="311.90" x2="495.70" y2="311.90" stroke="#222" stroke-width="1"/>
<text x="488.90" y="315.90" text-anchor="end" class="t">0.3</text>
<line x1="529.72" y1="443.30" x2="529.72" y2="441.10" stroke="#222" stroke-width="1"/>
<line x1="565.94" y1="443.30" x2="565.94" y2="441.10" stroke="#222" stroke-width="1"/>
<line x1="602.16" y1="443.30" x2="602.16" y2="441.10" stroke="#222" stroke-width="1"/>
<line x1="638.38" y1="443.30" x2="638.38" y2="441.10" stroke="#222" stroke-width="1"/>
<line x1="674.60" y1="443.30" x2="674.60" y2="441.10" stroke="#222" stroke-width="1"/>
<text x="493.50" y="456.10" text-anchor="middle" class="t">0</text>
<text x="529.72" y="456.10" text-anchor="middle" class="t">20</text>
<text x="565.94" y="456.10" text-anchor="middle" class="t">40</text>
<text x="602.16" y="456.10" text-anchor="middle" class="t">60</text>
<text x="638.38" y="456.10" text-anchor="middle" class="t">80</text>
<text x="674.60" y="456.10" text-anchor="middle" class="t">100</text>
<polyline points="496.00,381.44 499.02,380.63 502.03,379.85 505.05,379.09 508.07,378.34 511.08,377.62 514.10,376.92 517.12,376.24 520.14,375.59 523.15,374.95 526.17,374.34 529.19,373.74 532.20,373.17 535.22,372.62 538.24,372.09 541.25,371.58 544.27,371.09 547.29,370.62 550.31,370.17 553.32,369.75 556.34,369.34 559.36,368.96 562.37,368.60 565.39,368.26 568.41,367.94 571.42,367.64 574.44,367.37 577.46,367.11 580.47,366.87 583.49,366.66 586.51,366.47 589.53,366.30 592.54,366.15 595.56,366.02 598.58,365.91 601.59,365.82 604.61,365.76 607.63,365.71 610.64,365.69 613.66,365.69 616.68,365.70 619.69,365.74 622.71,365.80 625.73,365.89 628.75,365.99 631.76,366.11 634.78,366.26 637.80,366.43 640.81,366.61 643.83,366.82 646.85,367.05 649.86,367.30 652.88,367.58 655.90,367.87 658.92,368.19 661.93,368.52 664.95,368.88 667.97,369.26 670.98,369.65 674.00,370.08" fill="none" stroke="#2a2a2a" stroke-width="1.35"/>
<circle cx="493.3" cy="373.4" r="2.6"/>
<circle cx="494.3" cy="374.4" r="2.6"/>
<circle cx="496.7" cy="376.5" r="2.6"/>
<circle cx="496.2" cy="378.5" r="2.6"/>
<circle cx="496.2" cy="381.1" r="2.6"/>
<circle cx="508.7" cy="372.4" r="2.6"/>
<circle cx="510.7" cy="369.8" r="2.6"/>
<circle cx="515.8" cy="367.6" r="2.6"/>
<circle cx="519.9" cy="368.5" r="2.6"/>
<circle cx="515.8" cy="382.1" r="2.6"/>
<circle cx="525.3" cy="383.3" r="2.6"/>
<circle cx="546.8" cy="369.2" r="2.6"/>
<circle cx="552.4" cy="386.9" r="2.6"/>
<circle cx="570.3" cy="363.1" r="2.6"/>
<circle cx="570.3" cy="368.0" r="2.6"/>
<circle cx="583.5" cy="370.5" r="2.6"/>
<circle cx="583.5" cy="372.9" r="2.6"/>
<circle cx="601.6" cy="375.5" r="2.6"/>
<circle cx="616.0" cy="382.0" r="2.6"/>
<circle cx="650.5" cy="366.2" r="2.6"/>
<circle cx="583.5" cy="403.4" r="2.6"/>
<circle cx="583.5" cy="442.5" r="2.6"/>
<circle cx="674.1" cy="327.8" r="2.6"/>
<circle cx="674.1" cy="365.4" r="2.6"/>
<circle cx="674.1" cy="369.0" r="2.6"/>
<circle cx="674.1" cy="376.2" r="2.6"/>
<circle cx="674.1" cy="379.0" r="2.6"/>
<circle cx="674.1" cy="387.8" r="2.6"/>
<circle cx="674.1" cy="391.9" r="2.6"/>
<circle cx="674.1" cy="411.3" r="2.6"/>
<text x="505.10" y="322.70"><tspan class="L">(i)</tspan><tspan class="T" dx="3.6" dy="-0.7">Fv/Fm</tspan></text>
<text x="353.2" y="473.7" text-anchor="middle" class="ax">Light (%)</text>
<text transform="translate(11.7,230.9) rotate(-90)" text-anchor="middle" class="ax">Effect size (lnOR, lnRR)</text>
</svg>
</body></html>
